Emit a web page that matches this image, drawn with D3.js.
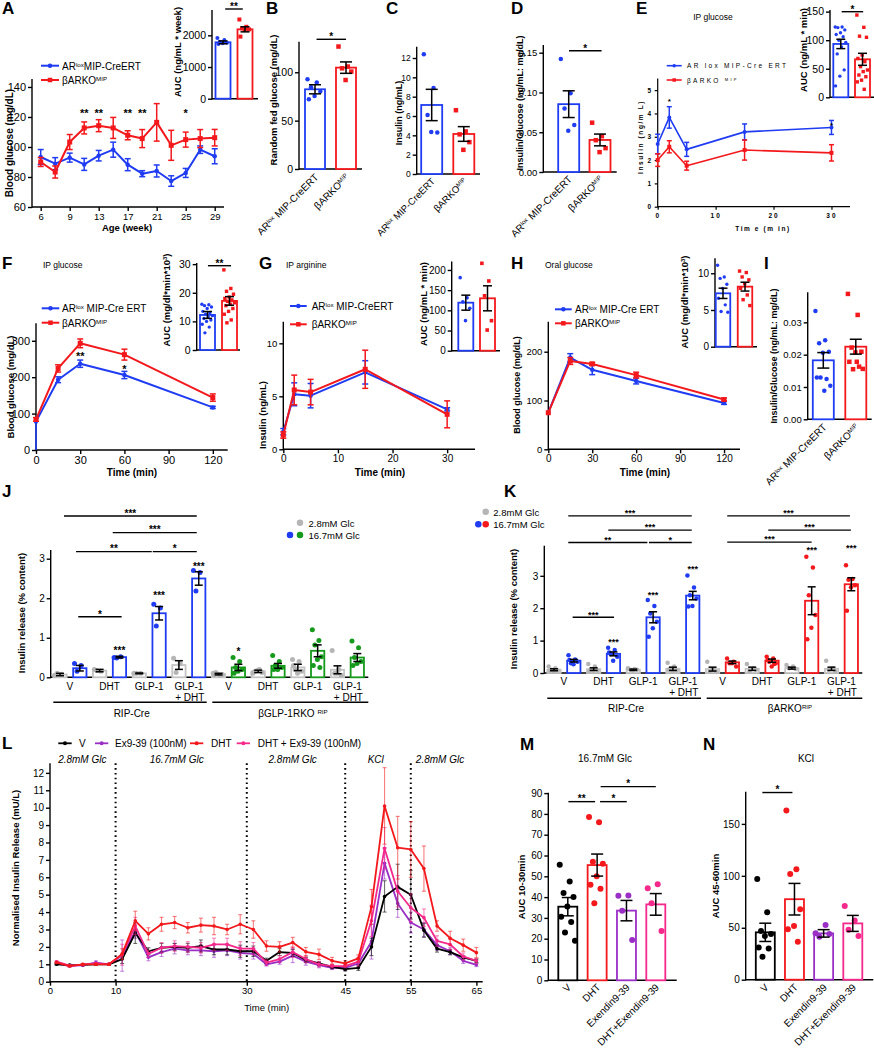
<!DOCTYPE html>
<html><head><meta charset="utf-8">
<script src="https://cdn.jsdelivr.net/npm/d3@7"></script>
<style>body{margin:0;background:#fff}</style>
</head><body><svg id="c" width="874" height="1050"></svg>
<script>
// ================= DATA =================
// Panel A
const A_age = [6,8,9,11,13,15,17,19,21,23,25,27,29];
const A_ageTicks = [6,9,13,17,21,25,29];
const A_ctrl = [93.3,88.9,92.9,88.4,94.2,98.2,88.2,82.2,84,77.3,82.7,98.2,93.8];
const A_ctrlErr = [5,4,3,4,3.5,5,4,2,4,3.5,3,2.5,5];
const A_ko = [90,83.3,103.3,112.7,114.2,112.7,107.8,105.6,116.4,101.1,104.9,105.6,106.2];
const A_koErr = [3,4,5,4,4,7,3,6,12.5,10,5,6,5.5];
const A_starAges = [11,13,17,19,25];
const A_starText = ["**","**","**","**","*"];
const A_aucMean = [1780, 2190];
const A_aucErr = [45, 80];
const A_aucDots = [[1920,1850,1800,1770,1750,1730],[2500,2270,2220,2190,2170,1960]];
// Panel B
const B_mean = [82.4, 104.8];
const B_err = [4.7, 5.9];
const B_dots = [[92.8,89.3,84.5,80,75.5,72],[126.6,105.9,104.1,100.7,92]];
// Panel C
const C_mean = [7.14, 4.14];
const C_err = [1.62, 0.76];
const C_dots = [[12.4,8.9,6.1,4.3,4.35],[6.6,4.4,4.1,3.3,2.5]];
// Panel D
const D_mean = [0.0853, 0.0403];
const D_err = [0.0168, 0.0074];
const D_dots = [[0.142,0.099,0.080,0.059,0.052],[0.062,0.045,0.040,0.030,0.025]];
// Panel E
const E_time = [0,2,5,15,30];
const E_ctrl = [2.69,3.83,2.46,3.21,3.4];
const E_ctrlErr = [0.42,0.46,0.3,0.34,0.3];
const E_ko = [2.0,2.57,1.76,2.43,2.31];
const E_koErr = [0.27,0.26,0.19,0.43,0.35];
const E_starTime = [2,30];
const E_starVal = [4.61,3.58];
const E_aucMean = [93.4, 66.5];
const E_aucErr = [8.2, 10.5];
const E_aucDots = [[123,123,122,118,113,110,106,100,96,88,76,48,37,20],
                   [144,122.5,107,105,74,68,62.4,53.7,47.8,45,39,36,30,27,14]];
// Panel F
const F_time = [0,15,30,60,120];
const F_ctrl = [78,193,237,206,117];
const F_ctrlErr = [0,8,10,10,3];
const F_ko = [84,224,293,262,144];
const F_koErr = [5,10,12,15,10];
const F_starTime = [30,60];
const F_starVal = [266,229];
const F_starText = ["**","*"];
const F_aucMean = [12.25, 17.15];
const F_aucErr = [1.2, 1.5];
const F_aucDots = [[16,15.8,15.5,15,14.5,13.5,13,12.5,12,11.5,11,10.5,10,9,8,6],
                   [28,21.5,20.5,19.5,18.5,18,17.5,17,16.5,16,15.5,14.5,13.5,12.5,10.5,9.5]];
// Panel G
const G_time = [0,2,5,15,30];
const G_ctrl = [1.66,5.19,5.06,7.26,3.77];
const G_ctrlErr = [0.3,1.08,1.15,1.1,0.15];
const G_ko = [1.35,5.6,5.4,7.55,3.3];
const G_koErr = [0.3,1.4,1.2,1.8,1.27];
const G_aucMean = [119, 129.8];
const G_aucErr = [18.6, 31];
const G_aucDots = [[181,131,121,105,74.4],[216.5,172.7,136,74.4,51.2]];
// Panel H
const H_time = [0,15,30,60,120];
const H_ctrl = [75,188,163,140,95];
const H_ctrlErr = [0,8,10,6,3];
const H_ko = [75,181,175,152,102];
const H_koErr = [0,7,3,6,3];
const H_aucMean = [7.27, 8.18];
const H_aucErr = [0.7, 0.6];
const H_aucDots = [[11.1,9.5,9.3,8.5,7.95,6.6,5.7,4.8,4.7],[10.3,10.1,9.5,9.1,8.6,7.95,7.05,6.4,5.6]];
// Panel I
const I_mean = [0.01825, 0.02247];
const I_err = [0.0024, 0.0023];
const I_dots = [[0.0335,0.0245,0.0235,0.0209,0.0206,0.0129,0.0125,0.0129,0.0104,0.0088],
                [0.0388,0.0323,0.0222,0.0209,0.0207,0.0178,0.0163,0.0155,0.0156,0.0178]];
// Panel J
const J_treat = [["V"],["DHT"],["GLP-1"],["GLP-1","+ DHT"]];
const J_creLo = [0.07,0.17,0.1,0.31], J_creLoErr=[0.03,0.03,0.01,0.11];
const J_creLoDots = [[0.05,0.08,0.1],[0.2,0.15,0.17],[0.1,0.1,0.1],[0.48,0.35,0.12]];
const J_creHi = [0.23,0.51,1.62,2.5], J_creHiErr=[0.07,0.02,0.17,0.17];
const J_creHiDots = [[0.35,0.3,0.15],[0.5,0.52,0.49],[1.85,1.75,1.3],[2.7,2.65,2.18]];
const J_koLo = [0.08,0.15,0.25,0.19], J_koLoErr=[0.02,0.03,0.08,0.1];
const J_koLoDots = [[0.1,0.05,0.12,0.07,0.08,0.06],[0.1,0.2,0.15,0.12,0.18,0.13],[0.45,0.4,0.2,0.15,0.1,0.3],[0.68,0.2,0.1,0.05,0.1]];
const J_koHi = [0.25,0.29,0.67,0.5], J_koHiErr=[0.08,0.06,0.15,0.1];
const J_koHiDots = [[0.5,0.4,0.25,0.2,0.15,0.1],[0.55,0.4,0.3,0.25,0.2,0.2],[1.2,0.93,0.82,0.52,0.45,0.3,0.25],[0.92,0.75,0.5,0.4,0.35,0.3]];
const J_starBar = [3,5,7,9], J_starVal=[0.73,2.13,2.87,0.72], J_starText=["***","***","***","*"];
const J_sig = [[0.2,6.9,4.08,"***"],[2.66,6.9,3.66,"***"],[0.81,4.63,3.18,"**"],[4.68,6.9,3.18,"*"],[0.92,3.11,1.53,"*"]];
// Panel K
const K_creLo = [0.1,0.12,0.1,0.13], K_creLoErr=[0.03,0.04,0.02,0.05];
const K_creLoDots = [[0.2,0.15,0.1,0.08,0.05,0.07],[0.28,0.2,0.1,0.08,0.07,0.05],[0.15,0.12,0.1,0.1,0.08],[0.32,0.2,0.12,0.08,0.05,0.1]];
const K_creHi = [0.38,0.59,1.72,2.39], K_creHiErr=[0.04,0.06,0.17,0.13];
const K_creHiDots = [[0.55,0.42,0.3,0.35,0.27,0.4],[0.78,0.71,0.59,0.5,0.38,0.63],[2.25,2.07,1.84,1.58,1.38,1.12],[3.01,2.64,2.4,2.3,2.07,2.05]];
const K_koLo = [0.12,0.13,0.15,0.13], K_koLoErr=[0.06,0.05,0.03,0.05];
const K_koLoDots = [[0.35,0.12,0.05,0.03,0.1],[0.28,0.15,0.05,0.1],[0.25,0.2,0.15,0.12],[0.38,0.15,0.1,0.05]];
const K_koHi = [0.33,0.38,2.23,2.74], K_koHiErr=[0.04,0.05,0.43,0.2];
const K_koHiDots = [[0.45,0.35,0.3,0.2,0.3],[0.5,0.45,0.35,0.3,0.2,0.4,0.28],[3.59,3.26,2.4,1.79,1.4,1.04],[3.33,2.9,2.88,2.71,2.65,1.92]];
const K_starBar = [3,5,7,13,15], K_starVal=[1.02,2.49,3.28,3.87,3.92];
const K_sig = [[0.94,3.03,1.72,"***"],[0.72,4.71,4.03,"**"],[4.79,6.95,4.03,"*"],[2.74,6.95,4.41,"***"],[0.72,6.95,4.85,"***"],
               [8.74,13.0,4.04,"***"],[10.81,14.98,4.41,"***"],[8.74,14.93,4.85,"***"]];
// Panel L
const L_time=[1,3,5,7,9,11,13,15,17,19,21,23,25,27,29,31,33,35,37,39,41,43,45,47,49,51,53,55,57,59,61,63,65];
const L_V  =[1.0,0.95,0.97,1.0,1.0,1.3,2.8,1.75,1.95,2.0,1.95,2.05,1.85,1.85,1.75,1.75,1.2,1.7,1.65,1.25,1.05,0.85,0.72,0.8,2.0,4.9,5.45,5.0,2.95,1.9,1.7,1.4,1.2];
const L_Ve =[0.05,0.05,0.05,0.05,0.05,0.25,0.6,0.2,0.25,0.2,0.25,0.35,0.3,0.3,0.35,0.3,0.15,0.2,0.2,0.15,0.1,0.1,0.1,0.15,0.5,0.9,1.3,1.4,0.4,0.2,0.15,0.1,0.1];
const L_Ex =[1.05,0.9,0.95,1.1,1.0,1.5,2.9,1.4,1.7,1.9,1.8,1.8,1.75,1.8,1.65,1.6,1.0,1.15,1.5,1.15,0.95,0.8,0.8,1.05,2.3,6.8,4.5,3.4,3.0,2.1,1.75,1.2,0.97];
const L_Exe=[0.05,0.05,0.05,0.1,0.05,0.9,0.4,0.2,0.25,0.3,0.25,0.3,0.35,0.3,0.35,0.3,0.1,0.15,0.4,0.2,0.15,0.1,0.15,0.2,1.0,0.9,0.8,0.6,0.4,0.3,0.2,0.15,0.1];
const L_DHT=[1.1,0.9,1.0,1.0,1.0,1.6,3.5,2.75,3.3,3.4,3.1,3.25,3.2,3.0,3.3,3.0,2.05,2.0,2.25,1.72,1.57,1.2,1.05,1.34,4.3,10.1,7.7,7.6,6.5,3.2,2.5,2.1,1.67];
const L_DHTe=[0.05,0.05,0.05,0.05,0.05,0.3,0.55,0.35,0.4,0.35,0.3,0.4,0.5,0.3,0.55,0.5,0.3,0.3,0.3,0.25,0.3,0.2,0.15,0.2,1.0,2.2,1.8,1.6,1.3,0.3,0.4,0.35,0.3];
const L_DE =[1.15,0.92,0.98,1.05,1.0,1.55,3.2,1.6,1.95,2.05,2.0,1.95,2.15,2.15,1.9,1.9,1.1,1.3,1.7,1.3,1.0,0.9,0.9,1.15,3.5,7.66,5.2,4.25,3.68,2.34,2.14,1.45,1.2];
const L_DEe=[0.05,0.05,0.05,0.05,0.05,0.6,0.5,0.2,0.3,0.3,0.3,0.3,0.35,0.35,0.4,0.35,0.15,0.2,0.3,0.2,0.15,0.1,0.1,0.25,0.9,1.2,0.9,0.8,0.5,0.3,0.3,0.2,0.15];
const L_xTicks=[0,10,30,45,55,65];
const L_yTicks=[0,1,2,3,4,5,6,7,8,9,10,11,12];
const L_phaseLines=[10,30,45,55];
// Panel M / N
const MN_cats = ["V","DHT","Exendin9-39","DHT+Exendin9-39"];
const M_mean=[35.4,55.4,33.5,36.5], M_err=[4.4,5.3,4.9,5.2];
const M_dots=[[55.5,47.5,42,40,35.5,30.5,28,23,19],[78.5,76,57,56,50,46,44,37],[40.6,40.8,33.5,19.4],[44.2,46.2,37,23.7]];
const M_sig=[[0.02,0.93,85.9,"**"],[1.1,2.01,85.9,"*"],[1.12,3.0,93.1,"*"]];
const N_mean=[45.6,77.5,44.6,54.2], N_err=[8.8,15.2,3.6,7.7];
const N_dots=[[97,65,47,44,42,31,30,22],[162.8,106.3,101.8,67.8,51.7,48.5,36.6],[44.7,52.7,41.4,44],[71,57,48,42]];
const N_sig=[[-0.1,0.93,180.2,"*"]];

// ================= DRAW HELPERS =================
const BLUE="#1f3cf2", RED="#f3181c", GREEN="#169a1c", GRAYS="#c4c4c4", GRAYD="#b5b5b5", PURPLE="#9a2fc6", PINK="#f5288b", BLACK="#000";
const FF="'Liberation Sans', Arial, Helvetica, sans-serif";
const svg=d3.select('#c');
svg.append('rect').attr('width',874).attr('height',1050).attr('fill','#fff');

function T(x,y,content,o={}){
  const fs=o.fs||11;
  const t=svg.append('text').attr('x',x).attr('y',y).attr('font-family',FF).attr('font-size',fs)
    .attr('font-weight',o.bold?'bold':'normal').attr('text-anchor',o.a||'start').attr('fill',o.fill||'#000');
  if(o.italic) t.attr('font-style','italic');
  if(o.ls) t.attr('letter-spacing',o.ls);
  if(o.rot) t.attr('transform',`rotate(${o.rot},${x},${y})`);
  (Array.isArray(content)?content:[content]).forEach(p=>{
    if(typeof p==='string') t.append('tspan').text(p);
    else t.append('tspan').attr('font-size',fs*0.62).attr('baseline-shift','super').text(p.sup);
  });
  return t;
}
function L(x1,y1,x2,y2,c,w,extra){const l=svg.append('line').attr('x1',x1).attr('y1',y1).attr('x2',x2).attr('y2',y2).attr('stroke',c||'#000').attr('stroke-width',w||1.4);if(extra)extra(l);return l;}
function yAxis(y,x0,ticks,o={}){
  const g=svg.append('g').attr('transform',`translate(${x0},0)`)
    .call(d3.axisLeft(y).tickValues(ticks).tickSize(o.ts||4).tickSizeOuter(0).tickPadding(o.tp||2).tickFormat(o.fmt||d3.format('')));
  g.select('.domain').remove();
  g.selectAll('line').attr('stroke','#000').attr('stroke-width',o.sw||1.4);
  g.selectAll('text').attr('font-family',FF).attr('font-size',o.fs||10).attr('fill','#000').attr('font-weight',o.bold?'bold':'normal');
  if(o.ls) g.selectAll('text').attr('letter-spacing',o.ls);
  const r=y.range(); L(x0,r[0]+0.7,x0,r[1],'#000',o.sw||1.4);
}
function xAxis(x,y0,ticks,x1,x2,o={}){
  if(ticks){
    const g=svg.append('g').attr('transform',`translate(0,${y0})`)
      .call(d3.axisBottom(x).tickValues(ticks).tickSize(o.ts||4).tickSizeOuter(0).tickPadding(o.tp||2).tickFormat(o.fmt||d3.format('')));
    g.select('.domain').remove();
    g.selectAll('line').attr('stroke','#000').attr('stroke-width',o.sw||1.4);
    g.selectAll('text').attr('font-family',FF).attr('font-size',o.fs||10).attr('fill','#000').attr('font-weight',o.bold?'bold':'normal');
    if(o.ls) g.selectAll('text').attr('letter-spacing',o.ls);
  }
  L(x1,y0,x2,y0,'#000',o.sw||1.4);
}
function marker(x,y,c,sym,s){
  if(sym==='square') svg.append('rect').attr('x',x-s/2).attr('y',y-s/2).attr('width',s).attr('height',s).attr('fill',c);
  else svg.append('circle').attr('cx',x).attr('cy',y).attr('r',s/2).attr('fill',c);
}
function series(x,y,xs,ys,es,c,o={}){
  const pts=xs.map((v,i)=>({px:x(v),v:ys[i],e:es?es[i]:0}));
  svg.append('path').attr('d',d3.line().x(d=>d.px).y(d=>y(d.v))(pts)).attr('fill','none').attr('stroke',c).attr('stroke-width',o.lw||2).attr('stroke-linejoin','round');
  const cw=(o.cap||6)/2;
  pts.forEach(d=>{ if(d.e>0){
    const a=y(d.v-d.e), b=y(d.v+d.e), op=o.eop||1, ew=o.ew||1.5;
    L(d.px,a,d.px,b,c,ew,l=>l.attr('opacity',op));
    L(d.px-cw,a,d.px+cw,a,c,ew,l=>l.attr('opacity',op));
    L(d.px-cw,b,d.px+cw,b,c,ew,l=>l.attr('opacity',op));
  }});
  pts.forEach(d=>marker(d.px,y(d.v),c,o.sym,o.ms||4.5));
}
function legendItem(x1,x2,y,c,sym,content,tx,ty,o={}){
  L(x1,y,x2,y,c,o.lw||2); marker((x1+x2)/2,y,c,sym,o.ms||4.5);
  T(tx,ty,content,{fs:o.fs||10,ls:o.ls});
}
function barSet(x,y,items,o){
  items.forEach(b=>{
    const cx=x(b.i), w=o.bw, top=y(b.v), base=y(0);
    svg.append('rect').attr('x',cx-w/2).attr('y',top).attr('width',w).attr('height',base-top)
      .attr('fill','#fff').attr('stroke',b.color).attr('stroke-width',o.sw||1.8);
    (b.dots||[]).forEach((d,j)=>{
      const off=(((j*0.618034)%1)-0.5)*w*(o.spread||0.75);
      marker(cx+off,y(d),b.dc||b.color,b.sym,o.ds||5);
    });
    const cw=(o.cap||w*0.6)/2, a=y(b.v-b.e), bb=y(b.v+b.e);
    L(cx,a,cx,bb,'#000',o.ew||1.5); L(cx-cw,a,cx+cw,a,'#000',o.ew||1.5); L(cx-cw,bb,cx+cw,bb,'#000',o.ew||1.5);
  });
}
function star(x,cy,s,fs){T(x,cy+0.58*(fs||11),s,{a:'middle',fs:fs||11,bold:true});}
function sig(xs,x1,x2,py,s,fs){L(xs(x1),py,xs(x2),py,'#000',1.4);star((xs(x1)+xs(x2))/2,py-5,s,fs||10);}
function panelLetter(x,y,s){T(x,y,s,{fs:17,bold:true});}
const lblCtrl=["AR",{sup:"lox"}," MIP-CreERT"];
const lblKO=["βARKO",{sup:"MIP"}];
function twoBars(x,y,mean,err,dots,o){
  barSet(x,y,[{i:0,v:mean[0],e:err[0],dots:dots[0],color:BLUE,sym:'circle'},{i:1,v:mean[1],e:err[1],dots:dots[1],color:RED,sym:'square'}],o);
}

// ================= PANEL A =================
panelLetter(2,14,"A");
{
  const x=d3.scalePoint().domain(A_age).range([40.7,214.7]);
  const y=d3.scaleLinear().domain([60,145.3]).range([207,79]);
  yAxis(y,32,[60,80,100,120,140],{fs:11});
  xAxis(x,207,A_ageTicks,32,224,{fs:9.5,tp:2.5});
  series(x,y,A_age,A_ctrl,A_ctrlErr,BLUE,{sym:'circle',ms:4.5,cap:6});
  series(x,y,A_age,A_ko,A_koErr,RED,{sym:'square',ms:5,cap:6});
  A_starAges.forEach((a,i)=>star(x(a),y(124.5),A_starText[i],11));
  T(13,143,"Blood glucose (mg/dL)",{a:'middle',rot:-90,bold:true,fs:10});
  T(127,230.5,"Age (week)",{a:'middle',bold:true,fs:9.5});
  legendItem(41,59,65.7,BLUE,'circle',["AR",{sup:"lox"},"MIP-CreERT"],62,69.5);
  legendItem(41,59,80,RED,'square',lblKO,62,84);
  // inset
  const yi=d3.scaleLinear().domain([0,2800]).range([98.7,10]);
  const xi=d3.scaleLinear().domain([0,1]).range([223,245]);
  yAxis(yi,212,[0,1000,2000],{fs:10.5});
  xAxis(null,98.7,null,212,258);
  twoBars(xi,yi,A_aucMean,A_aucErr,A_aucDots,{bw:15,ds:4,cap:9});
  sig(xi,0.1,0.9,9,"**",10);
  T(181,52,"AUC (ng/mL * week)",{a:'middle',rot:-90,bold:true,fs:9.5});
}
// ================= PANEL B =================
panelLetter(266,14,"B");
{
  const y=d3.scaleLinear().domain([0,131.6]).range([169,41.7]);
  const x=d3.scaleLinear().domain([0,1]).range([315,346]);
  yAxis(y,299,[0,50,100],{fs:10.5});
  xAxis(null,169,null,299,362);
  twoBars(x,y,B_mean,B_err,B_dots,{bw:20,ds:4.5,cap:12});
  sig(x,0.05,1.0,39.3,"*",10);
  T(277,100,"Random fed glucose (mg/dL)",{a:'middle',rot:-90,bold:true,fs:9.5});
  T(x(0)+4,178,lblCtrl,{a:'end',rot:-45,fs:10});
  T(x(1)+4,178,lblKO,{a:'end',rot:-45,fs:10});
}
// ================= PANEL C =================
panelLetter(386,14,"C");
{
  const y=d3.scaleLinear().domain([0,13.17]).range([174,46.7]);
  const x=d3.scaleLinear().domain([0,1]).range([431.7,463.8]);
  yAxis(y,416.7,[0,2,4,6,8,10,12],{fs:8.5});
  xAxis(null,174,null,416.7,480);
  twoBars(x,y,C_mean,C_err,C_dots,{bw:21,ds:4.5,cap:12});
  T(402,113,"Insulin (ng/mL)",{a:'middle',rot:-90,bold:true,fs:9});
  T(x(0)+4,182,lblCtrl,{a:'end',rot:-45,fs:9.5});
  T(x(1)+4,182,lblKO,{a:'end',rot:-45,fs:9.5});
}
// ================= PANEL D =================
panelLetter(511,14,"D");
{
  const y=d3.scaleLinear().domain([0,0.1597]).range([172,45]);
  const x=d3.scaleLinear().domain([0,1]).range([568.7,600]);
  yAxis(y,543.3,[0,0.05,0.10,0.15],{fs:9.5,fmt:d3.format('.2f')});
  xAxis(null,172,null,543.3,616.7);
  twoBars(x,y,D_mean,D_err,D_dots,{bw:21,ds:4.5,cap:12});
  sig(x,0.01,1.05,50.7,"*",10);
  T(523,103,"Insulin/Glucose (ng/mL: mg/dL)",{a:'middle',rot:-90,bold:true,fs:9});
  T(x(0)+4,180,lblCtrl,{a:'end',rot:-45,fs:10});
  T(x(1)+4,180,lblKO,{a:'end',rot:-45,fs:10});
}
// ================= PANEL E =================
panelLetter(636,14,"E");
{
  T(713,20,"IP glucose",{a:'middle',fs:8.5});
  const x=d3.scaleLinear().domain([0,33.2]).range([657.7,850]);
  const y=d3.scaleLinear().domain([0,5.5]).range([206.7,78.5]);
  yAxis(y,657.7,[0,1,2,3,4,5],{fs:6.5,bold:true,ls:1.5,sw:1.2,ts:3});
  xAxis(x,206.7,[0,10,20,30],657.7,850,{fs:6.5,bold:true,ls:2,sw:1.2,ts:3,tp:4});
  series(x,y,E_time,E_ctrl,E_ctrlErr,BLUE,{sym:'circle',ms:4,cap:5,lw:1.6});
  series(x,y,E_time,E_ko,E_koErr,RED,{sym:'square',ms:4,cap:5,lw:1.6});
  E_starTime.forEach((t,i)=>star(x(t),y(E_starVal[i]),"*",8));
  T(643,137,"Insulin (ng/m L)",{a:'middle',rot:-90,bold:true,fs:6.5,ls:1.6});
  T(763,231,"Tim e (m in)",{a:'middle',bold:true,fs:6.5,ls:1.6});
  legendItem(666.7,681.7,65.7,BLUE,'circle',"AR lox MIP-Cre ERT",687,68.2,{fs:6.5,ls:2.3,lw:1.6,ms:3.5});
  legendItem(666.7,681.7,80,RED,'square',["βARKO ",{sup:"MIP"}],687,82.7,{fs:6.5,ls:2.3,lw:1.6,ms:3.5});
  const yi=d3.scaleLinear().domain([0,153]).range([97.3,9.9]);
  const xi=d3.scaleLinear().domain([0,1]).range([840.8,862.5]);
  yAxis(yi,830,[0,50,100,150],{fs:10.5});
  xAxis(null,97.3,null,830,874);
  twoBars(xi,yi,E_aucMean,E_aucErr,E_aucDots,{bw:15,ds:3.4,cap:9});
  sig(xi,0.04,1.03,11.7,"*",10);
  T(807,50,"AUC (ng/mL * min)",{a:'middle',rot:-90,bold:true,fs:9.5});
}
// ================= PANEL F =================
panelLetter(2,269,"F");
{
  T(43,268,"IP glucose",{fs:8.5});
  const x=d3.scaleLinear().domain([0,130.1]).range([36,227.7]);
  const y=d3.scaleLinear().domain([0,348]).range([450,323.3]);
  yAxis(y,36,[0,100,200,300],{fs:11});
  xAxis(x,450,[0,30,60,90,120],36,227.7,{fs:11});
  L(36,450,36,y(F_ctrl[0]),BLUE,1.6);
  series(x,y,F_time,F_ctrl,F_ctrlErr,BLUE,{sym:'circle',ms:4.5,cap:6});
  series(x,y,F_time,F_ko,F_koErr,RED,{sym:'square',ms:5,cap:6});
  F_starTime.forEach((t,i)=>star(x(t),y(F_starVal[i]),F_starText[i],11));
  T(14,387,"Blood glucose (mg/dL)",{a:'middle',rot:-90,bold:true,fs:9.5});
  T(132,476,"Time (min)",{a:'middle',bold:true,fs:10});
  legendItem(41.7,59.3,308.3,BLUE,'circle',lblCtrl.slice(0,2).concat([" MIP-Cre ERT"]),62,312);
  legendItem(41.7,59.3,322.7,RED,'square',lblKO,62,326.5);
  const yi=d3.scaleLinear().domain([0,30.4]).range([350,263]);
  const xi=d3.scaleLinear().domain([0,1]).range([207.5,229.5]);
  yAxis(yi,196.7,[0,10,20,30],{fs:10.5});
  xAxis(null,350,null,196.7,240);
  twoBars(xi,yi,F_aucMean,F_aucErr,F_aucDots,{bw:15,ds:3.4,cap:9});
  sig(xi,0.02,1.07,265.7,"**",10);
  T(170,300,["AUC (mg/dl*min*10",{sup:"3"},")"],{a:'middle',rot:-90,bold:true,fs:9.5});
}
// ================= PANEL G =================
panelLetter(259,269,"G");
{
  T(286,268,"IP arginine",{fs:8.5});
  const x=d3.scaleLinear().domain([0,35.1]).range([283.3,475]);
  const y=d3.scaleLinear().domain([0,12.04]).range([449.3,321.7]);
  yAxis(y,283.3,[0,5,10],{fs:9.5});
  xAxis(x,449.3,[0,10,20,30],283.3,475,{fs:10});
  series(x,y,G_time,G_ctrl,G_ctrlErr,BLUE,{sym:'circle',ms:4.5,cap:6});
  series(x,y,G_time,G_ko,G_koErr,RED,{sym:'square',ms:5,cap:6});
  T(266,415,"Insulin (ng/mL)",{a:'middle',rot:-90,bold:true,fs:9.5});
  T(380,476,"Time (min)",{a:'middle',bold:true,fs:10});
  legendItem(290,306.7,306,BLUE,'circle',lblCtrl,311.7,310);
  legendItem(290,306.7,324.3,RED,'square',lblKO,311.7,328);
  const yi=d3.scaleLinear().domain([0,221]).range([350.7,261.5]);
  const xi=d3.scaleLinear().domain([0,1]).range([465.8,487.5]);
  yAxis(yi,451.7,[0,50,100,150,200],{fs:10});
  xAxis(null,350.7,null,451.7,500);
  twoBars(xi,yi,G_aucMean,G_aucErr,G_aucDots,{bw:15,ds:3.6,cap:9});
  T(427,304,"AUC (ng/mL * min)",{a:'middle',rot:-90,bold:true,fs:9.5});
}
// ================= PANEL H =================
panelLetter(511,269,"H");
{
  T(545,268,"Oral glucose",{fs:8.5});
  const x=d3.scaleLinear().domain([0,130.9]).range([548.3,740]);
  const y=d3.scaleLinear().domain([0,261.5]).range([449.3,321.7]);
  yAxis(y,548.3,[0,100,200],{fs:9.5});
  xAxis(x,449.3,[0,30,60,90,120],548.3,740,{fs:10});
  series(x,y,H_time,H_ctrl,H_ctrlErr,BLUE,{sym:'circle',ms:4.5,cap:6});
  series(x,y,H_time,H_ko,H_koErr,RED,{sym:'square',ms:5,cap:6});
  T(520,385,"Blood glucose (mg/dL)",{a:'middle',rot:-90,bold:true,fs:9});
  T(645,476,"Time (min)",{a:'middle',bold:true,fs:10});
  legendItem(555,571.7,309.3,BLUE,'circle',lblCtrl.slice(0,2).concat([" MIP-Cre ERT"]),575,313);
  legendItem(555,571.7,323.3,RED,'square',lblKO,575,327);
  const yi=d3.scaleLinear().domain([0,12.04]).range([346.7,258.3]);
  const xi=d3.scaleLinear().domain([0,1]).range([723,745]);
  yAxis(yi,715,[0,5,10],{fs:10});
  xAxis(null,346.7,null,715,757);
  twoBars(xi,yi,H_aucMean,H_aucErr,H_aucDots,{bw:14.5,ds:3.4,cap:9});
  T(688,302,["AUC (mg/dl*min*10",{sup:"3"},")"],{a:'middle',rot:-90,bold:true,fs:9.5});
}
// ================= PANEL I =================
panelLetter(764,269,"I");
{
  const y=d3.scaleLinear().domain([0,0.0393]).range([419.3,292.3]);
  const x=d3.scaleLinear().domain([0,1]).range([823.3,855.8]);
  yAxis(y,807.7,[0,0.01,0.02,0.03],{fs:9.5,fmt:d3.format('.2f')});
  xAxis(null,419.3,null,807.7,871.7);
  twoBars(x,y,I_mean,I_err,I_dots,{bw:21,ds:4.5,cap:12});
  T(777,356,"Insulin/Glucose (ng/mL: mg/dL)",{a:'middle',rot:-90,bold:true,fs:9});
  T(x(0)+4,428,lblCtrl,{a:'end',rot:-45,fs:10});
  T(x(1)+4,428,lblKO,{a:'end',rot:-45,fs:10});
}
// ================= PANEL J / K helper =================
function buildPairs(lo,loE,loD,hi,hiE,hiD,start,hiColor){
  const out=[];
  lo.forEach((v,k)=>{
    out.push({i:start+2*k,v,e:loE[k],dots:loD[k],color:GRAYS,dc:GRAYD,sym:'circle'});
    out.push({i:start+2*k+1,v:hi[k],e:hiE[k],dots:hiD[k],color:hiColor,sym:'circle'});
  });
  return out;
}
function treatLabels(x,start,yb){
  J_treat.forEach((lines,k)=>{
    const cx=x(start+2*k+0.5);
    lines.forEach((s,j)=>T(cx+(j?1:0),yb+j*10.5,s,{a:'middle',fs:10}));
  });
}
// ================= PANEL J =================
panelLetter(2,497,"J");
{
  const y=d3.scaleLinear().domain([0,3.22]).range([677.3,550]);
  const x=d3.scaleLinear().domain([0,15]).range([60,357.3]);
  yAxis(y,50.7,[0,1,2,3],{fs:10});
  xAxis(null,677.3,null,50.7,368.3);
  barSet(x,y,buildPairs(J_creLo,J_creLoErr,J_creLoDots,J_creHi,J_creHiErr,J_creHiDots,0,BLUE),{bw:13.3,ds:5,cap:8,spread:0.8});
  barSet(x,y,buildPairs(J_koLo,J_koLoErr,J_koLoDots,J_koHi,J_koHiErr,J_koHiDots,8,GREEN),{bw:13.3,ds:5,cap:8,spread:0.8});
  J_starBar.forEach((b,i)=>star(x(b),y(J_starVal[i]),J_starText[i],10));
  J_sig.forEach(s=>sig(x,s[0],s[1],y(s[2]),s[3],10));
  treatLabels(x,0,690); treatLabels(x,8,690);
  L(53.3,702.3,206.7,702.3,'#000',1.4); L(212.3,702.3,368.3,702.3,'#000',1.4);
  T(131.7,716.5,"RIP-Cre",{a:'middle',fs:10});
  T(293,716.5,["βGLP-1RKO ",{sup:"RIP"}],{a:'middle',fs:10});
  T(25,613,"Insulin release (% content)",{a:'middle',rot:-90,bold:true,fs:9.5});
  marker(300,522.7,GRAYD,'circle',6.5); T(308.5,526.5,"2.8mM Glc",{fs:9.5});
  marker(290,535,BLUE,'circle',6.5); marker(300,535,GREEN,'circle',6.5); T(308.5,538.8,"16.7mM Glc",{fs:9.5});
}
// ================= PANEL K =================
panelLetter(504,497,"K");
{
  const y=d3.scaleLinear().domain([0,3.93]).range([673,545.7]);
  const x=d3.scaleLinear().domain([0,15]).range([554,851.3]);
  yAxis(y,544.3,[0,1,2,3],{fs:10});
  xAxis(null,673,null,544.3,862.3);
  barSet(x,y,buildPairs(K_creLo,K_creLoErr,K_creLoDots,K_creHi,K_creHiErr,K_creHiDots,0,BLUE),{bw:13.3,ds:4.5,cap:8,spread:0.8});
  barSet(x,y,buildPairs(K_koLo,K_koLoErr,K_koLoDots,K_koHi,K_koHiErr,K_koHiDots,8,RED),{bw:13.3,ds:4.5,cap:8,spread:0.8});
  K_starBar.forEach((b,i)=>star(x(b),y(K_starVal[i]),"***",9));
  K_sig.forEach(s=>sig(x,s[0],s[1],y(s[2]),s[3],9));
  treatLabels(x,0,685); treatLabels(x,8,685);
  L(547.3,698.3,701,698.3,'#000',1.4); L(706.7,698.3,862.3,698.3,'#000',1.4);
  T(626,712.3,"RIP-Cre",{a:'middle',fs:10});
  T(790,712.3,["βARKO",{sup:"RIP"}],{a:'middle',fs:10});
  T(516.7,609,"Insulin release (% content)",{a:'middle',rot:-90,bold:true,fs:9.5});
  marker(485.7,511.7,GRAYD,'circle',6.5); T(493.3,515.5,"2.8mM Glc",{fs:9.5});
  marker(478.3,524.3,BLUE,'circle',6.5); marker(485.7,524.3,RED,'circle',6.5); T(493.3,528,"16.7mM Glc",{fs:9.5});
}
// ================= PANEL L =================
panelLetter(2,749,"L");
{
  const x=d3.scaleLinear().domain([0,66]).range([50,482.96]);
  const y=d3.scaleLinear().domain([0,12.55]).range([981.7,763.3]);
  L_phaseLines.forEach(t=>L(x(t),763.3,x(t),981.7,'#000',2,l=>l.attr('stroke-dasharray','1.6,3.2')));
  yAxis(y,50,L_yTicks,{fs:10});
  xAxis(x,981.7,L_xTicks,50,482.7,{fs:9.5});
  const o={sym:'circle',ms:3.6,cap:4,lw:1.8,eop:0.55,ew:1.1};
  series(x,y,L_time,L_Ex,L_Exe,PURPLE,o);
  series(x,y,L_time,L_V,L_Ve,BLACK,o);
  series(x,y,L_time,L_DE,L_DEe,PINK,o);
  series(x,y,L_time,L_DHT,L_DHTe,RED,o);
  T(19,868,"Normalised Insulin Release (mU/L)",{a:'middle',rot:-90,bold:true,fs:9.5});
  T(266.7,1011,"Time (min)",{a:'middle',fs:9.5});
  legendItem(58.3,71.7,743.3,BLACK,'circle',"V",79,747,{fs:10,ms:4,lw:1.8});
  legendItem(95,108.3,743.3,PURPLE,'circle',"Ex9-39 (100nM)",115,747,{fs:10,ms:4,lw:1.8});
  legendItem(190,203.3,743.3,RED,'circle',"DHT",211,747,{fs:10,ms:4,lw:1.8});
  legendItem(236.7,250,743.3,PINK,'circle',"DHT + Ex9-39 (100nM)",257.7,747,{fs:10,ms:4,lw:1.8});
  T(82.3,763,"2.8mM Glc",{a:'middle',italic:true,fs:10});
  T(176.7,763,"16.7mM Glc",{a:'middle',italic:true,fs:10});
  T(292.7,763,"2.8mM Glc",{a:'middle',italic:true,fs:10});
  T(375.7,763,"KCl",{a:'middle',italic:true,fs:10});
  T(440,763,"2.8mM Glc",{a:'middle',italic:true,fs:10});
}
// ================= PANEL M / N =================
const MN_colors=[BLACK,RED,PURPLE,PINK];
function mnPanel(mean,err,dots,x,y){
  barSet(x,y,mean.map((v,k)=>({i:k,v,e:err[k],dots:dots[k],color:MN_colors[k],sym:'circle'})),{bw:19,ds:6,cap:12,spread:0.85});
  MN_cats.forEach((c,k)=>T(x(k)+4,988,c,{a:'end',rot:-45,fs:10}));
}
panelLetter(520,750,"M");
{
  T(605,762,"16.7mM Glc",{a:'middle',fs:10});
  const y=d3.scaleLinear().domain([0,90.2]).range([980.3,792.7]);
  const x=d3.scaleLinear().domain([0,3]).range([567.8,655.8]);
  yAxis(y,548.3,[0,10,20,30,40,50,60,70,80,90],{fs:10});
  xAxis(null,980.3,null,548.3,676.7);
  mnPanel(M_mean,M_err,M_dots,x,y);
  M_sig.forEach(s=>sig(x,s[0],s[1],y(s[2]),s[3],10));
  T(525,887,"AUC 10-30min",{a:'middle',rot:-90,bold:true,fs:9.5});
}
panelLetter(703,750,"N");
{
  T(806,762,"KCl",{a:'middle',fs:10});
  const y=d3.scaleLinear().domain([0,181]).range([979.7,791.7]);
  const x=d3.scaleLinear().domain([0,3]).range([765.3,852.8]);
  yAxis(y,745.7,[0,50,100,150],{fs:10});
  xAxis(null,979.7,null,745.7,873.3);
  mnPanel(N_mean,N_err,N_dots,x,y);
  N_sig.forEach(s=>sig(x,s[0],s[1],y(s[2]),s[3],10));
  T(719,886,"AUC 45-60min",{a:'middle',rot:-90,bold:true,fs:9.5});
}
</script></body></html>
